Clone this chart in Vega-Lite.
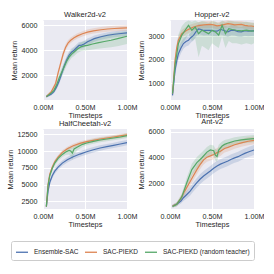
{
"$schema":"https://vega.github.io/schema/vega-lite/v6.json",
"background":"white",
"padding":{"left":6,"top":10,"right":0,"bottom":0},
"bounds":"flush",
"columns":2,
"spacing":{"row":29,"column":43},
"data":{"values":[
{"e":"Walker2d-v2","s":"Ensemble-SAC","t":0.04,"m":300,"lo":200,"hi":400},
{"e":"Walker2d-v2","s":"Ensemble-SAC","t":0.1,"m":500,"lo":380,"hi":620},
{"e":"Walker2d-v2","s":"Ensemble-SAC","t":0.13,"m":700,"lo":550,"hi":850},
{"e":"Walker2d-v2","s":"Ensemble-SAC","t":0.16,"m":1050,"lo":850,"hi":1250},
{"e":"Walker2d-v2","s":"Ensemble-SAC","t":0.19,"m":1500,"lo":1250,"hi":1750},
{"e":"Walker2d-v2","s":"Ensemble-SAC","t":0.22,"m":2100,"lo":1800,"hi":2400},
{"e":"Walker2d-v2","s":"Ensemble-SAC","t":0.25,"m":2700,"lo":2400,"hi":3000},
{"e":"Walker2d-v2","s":"Ensemble-SAC","t":0.28,"m":3200,"lo":2900,"hi":3500},
{"e":"Walker2d-v2","s":"Ensemble-SAC","t":0.31,"m":3600,"lo":3300,"hi":3900},
{"e":"Walker2d-v2","s":"Ensemble-SAC","t":0.34,"m":3850,"lo":3550,"hi":4150},
{"e":"Walker2d-v2","s":"Ensemble-SAC","t":0.37,"m":4000,"lo":3720,"hi":4280},
{"e":"Walker2d-v2","s":"Ensemble-SAC","t":0.4,"m":4200,"lo":3920,"hi":4480},
{"e":"Walker2d-v2","s":"Ensemble-SAC","t":0.43,"m":4400,"lo":4130,"hi":4670},
{"e":"Walker2d-v2","s":"Ensemble-SAC","t":0.46,"m":4420,"lo":4150,"hi":4690},
{"e":"Walker2d-v2","s":"Ensemble-SAC","t":0.49,"m":4500,"lo":4230,"hi":4770},
{"e":"Walker2d-v2","s":"Ensemble-SAC","t":0.53,"m":4680,"lo":4420,"hi":4940},
{"e":"Walker2d-v2","s":"Ensemble-SAC","t":0.57,"m":4800,"lo":4550,"hi":5050},
{"e":"Walker2d-v2","s":"Ensemble-SAC","t":0.61,"m":4930,"lo":4680,"hi":5180},
{"e":"Walker2d-v2","s":"Ensemble-SAC","t":0.69,"m":5080,"lo":4840,"hi":5320},
{"e":"Walker2d-v2","s":"Ensemble-SAC","t":0.77,"m":5200,"lo":4960,"hi":5440},
{"e":"Walker2d-v2","s":"Ensemble-SAC","t":0.85,"m":5280,"lo":5040,"hi":5520},
{"e":"Walker2d-v2","s":"Ensemble-SAC","t":0.93,"m":5340,"lo":5100,"hi":5580},
{"e":"Walker2d-v2","s":"Ensemble-SAC","t":1.0,"m":5390,"lo":5150,"hi":5630},
{"e":"Walker2d-v2","s":"SAC-PIEKD","t":0.04,"m":300,"lo":200,"hi":400},
{"e":"Walker2d-v2","s":"SAC-PIEKD","t":0.1,"m":700,"lo":580,"hi":820},
{"e":"Walker2d-v2","s":"SAC-PIEKD","t":0.15,"m":1350,"lo":1150,"hi":1550},
{"e":"Walker2d-v2","s":"SAC-PIEKD","t":0.18,"m":2200,"lo":1950,"hi":2450},
{"e":"Walker2d-v2","s":"SAC-PIEKD","t":0.21,"m":2950,"lo":2700,"hi":3200},
{"e":"Walker2d-v2","s":"SAC-PIEKD","t":0.24,"m":3700,"lo":3450,"hi":3950},
{"e":"Walker2d-v2","s":"SAC-PIEKD","t":0.27,"m":4250,"lo":4000,"hi":4500},
{"e":"Walker2d-v2","s":"SAC-PIEKD","t":0.3,"m":4600,"lo":4370,"hi":4830},
{"e":"Walker2d-v2","s":"SAC-PIEKD","t":0.33,"m":4800,"lo":4580,"hi":5020},
{"e":"Walker2d-v2","s":"SAC-PIEKD","t":0.37,"m":5000,"lo":4790,"hi":5210},
{"e":"Walker2d-v2","s":"SAC-PIEKD","t":0.41,"m":5150,"lo":4940,"hi":5360},
{"e":"Walker2d-v2","s":"SAC-PIEKD","t":0.47,"m":5320,"lo":5110,"hi":5530},
{"e":"Walker2d-v2","s":"SAC-PIEKD","t":0.53,"m":5450,"lo":5240,"hi":5660},
{"e":"Walker2d-v2","s":"SAC-PIEKD","t":0.6,"m":5550,"lo":5340,"hi":5760},
{"e":"Walker2d-v2","s":"SAC-PIEKD","t":0.69,"m":5640,"lo":5420,"hi":5860},
{"e":"Walker2d-v2","s":"SAC-PIEKD","t":0.77,"m":5700,"lo":5480,"hi":5920},
{"e":"Walker2d-v2","s":"SAC-PIEKD","t":0.85,"m":5740,"lo":5520,"hi":5960},
{"e":"Walker2d-v2","s":"SAC-PIEKD","t":0.93,"m":5770,"lo":5550,"hi":5990},
{"e":"Walker2d-v2","s":"SAC-PIEKD","t":1.0,"m":5790,"lo":5570,"hi":6010},
{"e":"Walker2d-v2","s":"SAC-PIEKD (random teacher)","t":0.04,"m":300,"lo":200,"hi":400},
{"e":"Walker2d-v2","s":"SAC-PIEKD (random teacher)","t":0.1,"m":600,"lo":450,"hi":750},
{"e":"Walker2d-v2","s":"SAC-PIEKD (random teacher)","t":0.13,"m":800,"lo":620,"hi":980},
{"e":"Walker2d-v2","s":"SAC-PIEKD (random teacher)","t":0.16,"m":1200,"lo":950,"hi":1450},
{"e":"Walker2d-v2","s":"SAC-PIEKD (random teacher)","t":0.19,"m":1750,"lo":1450,"hi":2050},
{"e":"Walker2d-v2","s":"SAC-PIEKD (random teacher)","t":0.22,"m":2200,"lo":1850,"hi":2550},
{"e":"Walker2d-v2","s":"SAC-PIEKD (random teacher)","t":0.25,"m":2650,"lo":2300,"hi":3000},
{"e":"Walker2d-v2","s":"SAC-PIEKD (random teacher)","t":0.28,"m":3100,"lo":2750,"hi":3450},
{"e":"Walker2d-v2","s":"SAC-PIEKD (random teacher)","t":0.31,"m":3450,"lo":3100,"hi":3800},
{"e":"Walker2d-v2","s":"SAC-PIEKD (random teacher)","t":0.34,"m":3700,"lo":3380,"hi":4020},
{"e":"Walker2d-v2","s":"SAC-PIEKD (random teacher)","t":0.37,"m":3870,"lo":3550,"hi":4190},
{"e":"Walker2d-v2","s":"SAC-PIEKD (random teacher)","t":0.41,"m":4100,"lo":3780,"hi":4420},
{"e":"Walker2d-v2","s":"SAC-PIEKD (random teacher)","t":0.45,"m":4270,"lo":3920,"hi":4620},
{"e":"Walker2d-v2","s":"SAC-PIEKD (random teacher)","t":0.49,"m":4350,"lo":3980,"hi":4720},
{"e":"Walker2d-v2","s":"SAC-PIEKD (random teacher)","t":0.53,"m":4400,"lo":4000,"hi":4800},
{"e":"Walker2d-v2","s":"SAC-PIEKD (random teacher)","t":0.59,"m":4500,"lo":4060,"hi":4940},
{"e":"Walker2d-v2","s":"SAC-PIEKD (random teacher)","t":0.65,"m":4590,"lo":4120,"hi":5060},
{"e":"Walker2d-v2","s":"SAC-PIEKD (random teacher)","t":0.73,"m":4700,"lo":4180,"hi":5220},
{"e":"Walker2d-v2","s":"SAC-PIEKD (random teacher)","t":0.81,"m":4800,"lo":4250,"hi":5350},
{"e":"Walker2d-v2","s":"SAC-PIEKD (random teacher)","t":0.9,"m":4950,"lo":4350,"hi":5450},
{"e":"Walker2d-v2","s":"SAC-PIEKD (random teacher)","t":1.0,"m":5120,"lo":4500,"hi":5500},
{"e":"Hopper-v2","s":"Ensemble-SAC","t":0.03,"m":470,"lo":350,"hi":590},
{"e":"Hopper-v2","s":"Ensemble-SAC","t":0.06,"m":1550,"lo":1300,"hi":1800},
{"e":"Hopper-v2","s":"Ensemble-SAC","t":0.08,"m":1950,"lo":1700,"hi":2200},
{"e":"Hopper-v2","s":"Ensemble-SAC","t":0.1,"m":2250,"lo":2000,"hi":2500},
{"e":"Hopper-v2","s":"Ensemble-SAC","t":0.13,"m":2500,"lo":2270,"hi":2730},
{"e":"Hopper-v2","s":"Ensemble-SAC","t":0.16,"m":2690,"lo":2470,"hi":2910},
{"e":"Hopper-v2","s":"Ensemble-SAC","t":0.19,"m":2780,"lo":2560,"hi":3000},
{"e":"Hopper-v2","s":"Ensemble-SAC","t":0.22,"m":2830,"lo":2610,"hi":3050},
{"e":"Hopper-v2","s":"Ensemble-SAC","t":0.25,"m":2950,"lo":2730,"hi":3170},
{"e":"Hopper-v2","s":"Ensemble-SAC","t":0.28,"m":3040,"lo":2820,"hi":3260},
{"e":"Hopper-v2","s":"Ensemble-SAC","t":0.31,"m":3200,"lo":2980,"hi":3420},
{"e":"Hopper-v2","s":"Ensemble-SAC","t":0.34,"m":3320,"lo":3100,"hi":3540},
{"e":"Hopper-v2","s":"Ensemble-SAC","t":0.37,"m":3290,"lo":3070,"hi":3510},
{"e":"Hopper-v2","s":"Ensemble-SAC","t":0.4,"m":3250,"lo":3030,"hi":3470},
{"e":"Hopper-v2","s":"Ensemble-SAC","t":0.44,"m":3260,"lo":3040,"hi":3480},
{"e":"Hopper-v2","s":"Ensemble-SAC","t":0.48,"m":3250,"lo":3030,"hi":3470},
{"e":"Hopper-v2","s":"Ensemble-SAC","t":0.52,"m":3230,"lo":3010,"hi":3450},
{"e":"Hopper-v2","s":"Ensemble-SAC","t":0.56,"m":3220,"lo":3000,"hi":3440},
{"e":"Hopper-v2","s":"Ensemble-SAC","t":0.6,"m":3300,"lo":3080,"hi":3520},
{"e":"Hopper-v2","s":"Ensemble-SAC","t":0.64,"m":3250,"lo":3030,"hi":3470},
{"e":"Hopper-v2","s":"Ensemble-SAC","t":0.69,"m":3190,"lo":2970,"hi":3410},
{"e":"Hopper-v2","s":"Ensemble-SAC","t":0.73,"m":3260,"lo":3040,"hi":3480},
{"e":"Hopper-v2","s":"Ensemble-SAC","t":0.77,"m":3250,"lo":3030,"hi":3470},
{"e":"Hopper-v2","s":"Ensemble-SAC","t":0.81,"m":3200,"lo":2980,"hi":3420},
{"e":"Hopper-v2","s":"Ensemble-SAC","t":0.85,"m":3190,"lo":2970,"hi":3410},
{"e":"Hopper-v2","s":"Ensemble-SAC","t":0.89,"m":3240,"lo":3020,"hi":3460},
{"e":"Hopper-v2","s":"Ensemble-SAC","t":0.93,"m":3220,"lo":3000,"hi":3440},
{"e":"Hopper-v2","s":"Ensemble-SAC","t":0.97,"m":3230,"lo":3010,"hi":3450},
{"e":"Hopper-v2","s":"Ensemble-SAC","t":1.0,"m":3230,"lo":3010,"hi":3450},
{"e":"Hopper-v2","s":"SAC-PIEKD","t":0.03,"m":550,"lo":430,"hi":670},
{"e":"Hopper-v2","s":"SAC-PIEKD","t":0.06,"m":1970,"lo":1750,"hi":2190},
{"e":"Hopper-v2","s":"SAC-PIEKD","t":0.08,"m":2500,"lo":2300,"hi":2700},
{"e":"Hopper-v2","s":"SAC-PIEKD","t":0.1,"m":2830,"lo":2650,"hi":3010},
{"e":"Hopper-v2","s":"SAC-PIEKD","t":0.14,"m":3110,"lo":2950,"hi":3270},
{"e":"Hopper-v2","s":"SAC-PIEKD","t":0.2,"m":3260,"lo":3100,"hi":3420},
{"e":"Hopper-v2","s":"SAC-PIEKD","t":0.24,"m":3330,"lo":3170,"hi":3490},
{"e":"Hopper-v2","s":"SAC-PIEKD","t":0.28,"m":3400,"lo":3250,"hi":3550},
{"e":"Hopper-v2","s":"SAC-PIEKD","t":0.32,"m":3440,"lo":3290,"hi":3590},
{"e":"Hopper-v2","s":"SAC-PIEKD","t":0.36,"m":3470,"lo":3320,"hi":3620},
{"e":"Hopper-v2","s":"SAC-PIEKD","t":0.4,"m":3490,"lo":3340,"hi":3640},
{"e":"Hopper-v2","s":"SAC-PIEKD","t":0.44,"m":3500,"lo":3350,"hi":3650},
{"e":"Hopper-v2","s":"SAC-PIEKD","t":0.48,"m":3510,"lo":3360,"hi":3660},
{"e":"Hopper-v2","s":"SAC-PIEKD","t":0.52,"m":3490,"lo":3340,"hi":3640},
{"e":"Hopper-v2","s":"SAC-PIEKD","t":0.56,"m":3450,"lo":3300,"hi":3600},
{"e":"Hopper-v2","s":"SAC-PIEKD","t":0.6,"m":3470,"lo":3320,"hi":3620},
{"e":"Hopper-v2","s":"SAC-PIEKD","t":0.64,"m":3500,"lo":3350,"hi":3650},
{"e":"Hopper-v2","s":"SAC-PIEKD","t":0.69,"m":3540,"lo":3390,"hi":3690},
{"e":"Hopper-v2","s":"SAC-PIEKD","t":0.73,"m":3520,"lo":3370,"hi":3670},
{"e":"Hopper-v2","s":"SAC-PIEKD","t":0.77,"m":3490,"lo":3340,"hi":3640},
{"e":"Hopper-v2","s":"SAC-PIEKD","t":0.81,"m":3500,"lo":3350,"hi":3650},
{"e":"Hopper-v2","s":"SAC-PIEKD","t":0.85,"m":3510,"lo":3360,"hi":3660},
{"e":"Hopper-v2","s":"SAC-PIEKD","t":0.89,"m":3470,"lo":3320,"hi":3620},
{"e":"Hopper-v2","s":"SAC-PIEKD","t":0.93,"m":3450,"lo":3300,"hi":3600},
{"e":"Hopper-v2","s":"SAC-PIEKD","t":0.97,"m":3440,"lo":3290,"hi":3590},
{"e":"Hopper-v2","s":"SAC-PIEKD","t":1.0,"m":3420,"lo":3270,"hi":3570},
{"e":"Hopper-v2","s":"SAC-PIEKD (random teacher)","t":0.03,"m":550,"lo":430,"hi":670},
{"e":"Hopper-v2","s":"SAC-PIEKD (random teacher)","t":0.06,"m":1760,"lo":1450,"hi":2070},
{"e":"Hopper-v2","s":"SAC-PIEKD (random teacher)","t":0.1,"m":2690,"lo":2300,"hi":3080},
{"e":"Hopper-v2","s":"SAC-PIEKD (random teacher)","t":0.14,"m":3040,"lo":2650,"hi":3430},
{"e":"Hopper-v2","s":"SAC-PIEKD (random teacher)","t":0.18,"m":3260,"lo":2850,"hi":3600},
{"e":"Hopper-v2","s":"SAC-PIEKD (random teacher)","t":0.22,"m":3470,"lo":3100,"hi":3680},
{"e":"Hopper-v2","s":"SAC-PIEKD (random teacher)","t":0.26,"m":3260,"lo":2800,"hi":3620},
{"e":"Hopper-v2","s":"SAC-PIEKD (random teacher)","t":0.3,"m":3400,"lo":2900,"hi":3680},
{"e":"Hopper-v2","s":"SAC-PIEKD (random teacher)","t":0.34,"m":3110,"lo":2100,"hi":3600},
{"e":"Hopper-v2","s":"SAC-PIEKD (random teacher)","t":0.38,"m":3260,"lo":2600,"hi":3650},
{"e":"Hopper-v2","s":"SAC-PIEKD (random teacher)","t":0.42,"m":3190,"lo":2500,"hi":3620},
{"e":"Hopper-v2","s":"SAC-PIEKD (random teacher)","t":0.46,"m":3110,"lo":2400,"hi":3580},
{"e":"Hopper-v2","s":"SAC-PIEKD (random teacher)","t":0.5,"m":3260,"lo":2700,"hi":3650},
{"e":"Hopper-v2","s":"SAC-PIEKD (random teacher)","t":0.54,"m":3190,"lo":2600,"hi":3620},
{"e":"Hopper-v2","s":"SAC-PIEKD (random teacher)","t":0.58,"m":3050,"lo":2500,"hi":3550},
{"e":"Hopper-v2","s":"SAC-PIEKD (random teacher)","t":0.62,"m":3470,"lo":3000,"hi":3680},
{"e":"Hopper-v2","s":"SAC-PIEKD (random teacher)","t":0.66,"m":3110,"lo":2500,"hi":3600},
{"e":"Hopper-v2","s":"SAC-PIEKD (random teacher)","t":0.7,"m":3330,"lo":2800,"hi":3650},
{"e":"Hopper-v2","s":"SAC-PIEKD (random teacher)","t":0.74,"m":3290,"lo":2700,"hi":3640},
{"e":"Hopper-v2","s":"SAC-PIEKD (random teacher)","t":0.79,"m":3260,"lo":2700,"hi":3620},
{"e":"Hopper-v2","s":"SAC-PIEKD (random teacher)","t":0.85,"m":3230,"lo":2650,"hi":3600},
{"e":"Hopper-v2","s":"SAC-PIEKD (random teacher)","t":0.91,"m":3260,"lo":2700,"hi":3620},
{"e":"Hopper-v2","s":"SAC-PIEKD (random teacher)","t":0.97,"m":3220,"lo":2650,"hi":3580},
{"e":"Hopper-v2","s":"SAC-PIEKD (random teacher)","t":1.0,"m":3230,"lo":2700,"hi":3580},
{"e":"HalfCheetah-v2","s":"Ensemble-SAC","t":0.04,"m":1700,"lo":1500,"hi":1900},
{"e":"HalfCheetah-v2","s":"Ensemble-SAC","t":0.06,"m":4000,"lo":3600,"hi":4400},
{"e":"HalfCheetah-v2","s":"Ensemble-SAC","t":0.08,"m":5300,"lo":4900,"hi":5700},
{"e":"HalfCheetah-v2","s":"Ensemble-SAC","t":0.11,"m":6300,"lo":5900,"hi":6700},
{"e":"HalfCheetah-v2","s":"Ensemble-SAC","t":0.14,"m":7000,"lo":6600,"hi":7400},
{"e":"HalfCheetah-v2","s":"Ensemble-SAC","t":0.18,"m":7600,"lo":7200,"hi":8000},
{"e":"HalfCheetah-v2","s":"Ensemble-SAC","t":0.23,"m":8200,"lo":7800,"hi":8600},
{"e":"HalfCheetah-v2","s":"Ensemble-SAC","t":0.29,"m":8700,"lo":8300,"hi":9100},
{"e":"HalfCheetah-v2","s":"Ensemble-SAC","t":0.36,"m":9150,"lo":8750,"hi":9550},
{"e":"HalfCheetah-v2","s":"Ensemble-SAC","t":0.44,"m":9550,"lo":9150,"hi":9950},
{"e":"HalfCheetah-v2","s":"Ensemble-SAC","t":0.52,"m":9900,"lo":9500,"hi":10300},
{"e":"HalfCheetah-v2","s":"Ensemble-SAC","t":0.6,"m":10200,"lo":9800,"hi":10600},
{"e":"HalfCheetah-v2","s":"Ensemble-SAC","t":0.68,"m":10450,"lo":10050,"hi":10850},
{"e":"HalfCheetah-v2","s":"Ensemble-SAC","t":0.76,"m":10650,"lo":10250,"hi":11050},
{"e":"HalfCheetah-v2","s":"Ensemble-SAC","t":0.84,"m":10850,"lo":10450,"hi":11250},
{"e":"HalfCheetah-v2","s":"Ensemble-SAC","t":0.92,"m":11050,"lo":10650,"hi":11450},
{"e":"HalfCheetah-v2","s":"Ensemble-SAC","t":1.0,"m":11250,"lo":10850,"hi":11650},
{"e":"HalfCheetah-v2","s":"SAC-PIEKD","t":0.04,"m":1700,"lo":1500,"hi":1900},
{"e":"HalfCheetah-v2","s":"SAC-PIEKD","t":0.06,"m":5000,"lo":4700,"hi":5300},
{"e":"HalfCheetah-v2","s":"SAC-PIEKD","t":0.08,"m":6500,"lo":6200,"hi":6800},
{"e":"HalfCheetah-v2","s":"SAC-PIEKD","t":0.11,"m":7600,"lo":7300,"hi":7900},
{"e":"HalfCheetah-v2","s":"SAC-PIEKD","t":0.14,"m":8400,"lo":8100,"hi":8700},
{"e":"HalfCheetah-v2","s":"SAC-PIEKD","t":0.18,"m":9100,"lo":8800,"hi":9400},
{"e":"HalfCheetah-v2","s":"SAC-PIEKD","t":0.23,"m":9800,"lo":9500,"hi":10100},
{"e":"HalfCheetah-v2","s":"SAC-PIEKD","t":0.29,"m":10350,"lo":10050,"hi":10650},
{"e":"HalfCheetah-v2","s":"SAC-PIEKD","t":0.36,"m":10800,"lo":10500,"hi":11100},
{"e":"HalfCheetah-v2","s":"SAC-PIEKD","t":0.44,"m":11150,"lo":10850,"hi":11450},
{"e":"HalfCheetah-v2","s":"SAC-PIEKD","t":0.52,"m":11400,"lo":11100,"hi":11700},
{"e":"HalfCheetah-v2","s":"SAC-PIEKD","t":0.6,"m":11600,"lo":11300,"hi":11900},
{"e":"HalfCheetah-v2","s":"SAC-PIEKD","t":0.68,"m":11800,"lo":11500,"hi":12100},
{"e":"HalfCheetah-v2","s":"SAC-PIEKD","t":0.76,"m":11950,"lo":11650,"hi":12250},
{"e":"HalfCheetah-v2","s":"SAC-PIEKD","t":0.84,"m":12100,"lo":11800,"hi":12400},
{"e":"HalfCheetah-v2","s":"SAC-PIEKD","t":0.92,"m":12250,"lo":11950,"hi":12550},
{"e":"HalfCheetah-v2","s":"SAC-PIEKD","t":1.0,"m":12400,"lo":12100,"hi":12700},
{"e":"HalfCheetah-v2","s":"SAC-PIEKD (random teacher)","t":0.04,"m":1700,"lo":1500,"hi":1900},
{"e":"HalfCheetah-v2","s":"SAC-PIEKD (random teacher)","t":0.06,"m":4800,"lo":4400,"hi":5200},
{"e":"HalfCheetah-v2","s":"SAC-PIEKD (random teacher)","t":0.08,"m":6300,"lo":5900,"hi":6700},
{"e":"HalfCheetah-v2","s":"SAC-PIEKD (random teacher)","t":0.11,"m":7400,"lo":7000,"hi":7800},
{"e":"HalfCheetah-v2","s":"SAC-PIEKD (random teacher)","t":0.14,"m":8200,"lo":7800,"hi":8600},
{"e":"HalfCheetah-v2","s":"SAC-PIEKD (random teacher)","t":0.18,"m":8900,"lo":8500,"hi":9300},
{"e":"HalfCheetah-v2","s":"SAC-PIEKD (random teacher)","t":0.23,"m":9500,"lo":9100,"hi":9900},
{"e":"HalfCheetah-v2","s":"SAC-PIEKD (random teacher)","t":0.27,"m":9850,"lo":9400,"hi":10300},
{"e":"HalfCheetah-v2","s":"SAC-PIEKD (random teacher)","t":0.31,"m":10100,"lo":9500,"hi":10600},
{"e":"HalfCheetah-v2","s":"SAC-PIEKD (random teacher)","t":0.33,"m":10000,"lo":9200,"hi":10600},
{"e":"HalfCheetah-v2","s":"SAC-PIEKD (random teacher)","t":0.35,"m":9700,"lo":8700,"hi":10500},
{"e":"HalfCheetah-v2","s":"SAC-PIEKD (random teacher)","t":0.37,"m":10300,"lo":9500,"hi":10800},
{"e":"HalfCheetah-v2","s":"SAC-PIEKD (random teacher)","t":0.41,"m":10600,"lo":10100,"hi":11100},
{"e":"HalfCheetah-v2","s":"SAC-PIEKD (random teacher)","t":0.47,"m":11000,"lo":10600,"hi":11400},
{"e":"HalfCheetah-v2","s":"SAC-PIEKD (random teacher)","t":0.52,"m":11200,"lo":10850,"hi":11550},
{"e":"HalfCheetah-v2","s":"SAC-PIEKD (random teacher)","t":0.6,"m":11450,"lo":11100,"hi":11800},
{"e":"HalfCheetah-v2","s":"SAC-PIEKD (random teacher)","t":0.68,"m":11650,"lo":11300,"hi":12000},
{"e":"HalfCheetah-v2","s":"SAC-PIEKD (random teacher)","t":0.76,"m":11800,"lo":11450,"hi":12150},
{"e":"HalfCheetah-v2","s":"SAC-PIEKD (random teacher)","t":0.84,"m":11950,"lo":11600,"hi":12300},
{"e":"HalfCheetah-v2","s":"SAC-PIEKD (random teacher)","t":0.92,"m":12100,"lo":11750,"hi":12450},
{"e":"HalfCheetah-v2","s":"SAC-PIEKD (random teacher)","t":1.0,"m":12300,"lo":11950,"hi":12650},
{"e":"Ant-v2","s":"Ensemble-SAC","t":0.03,"m":320,"lo":200,"hi":440},
{"e":"Ant-v2","s":"Ensemble-SAC","t":0.08,"m":450,"lo":300,"hi":600},
{"e":"Ant-v2","s":"Ensemble-SAC","t":0.13,"m":700,"lo":500,"hi":900},
{"e":"Ant-v2","s":"Ensemble-SAC","t":0.16,"m":950,"lo":700,"hi":1200},
{"e":"Ant-v2","s":"Ensemble-SAC","t":0.2,"m":1200,"lo":900,"hi":1500},
{"e":"Ant-v2","s":"Ensemble-SAC","t":0.24,"m":1460,"lo":1130,"hi":1790},
{"e":"Ant-v2","s":"Ensemble-SAC","t":0.28,"m":1800,"lo":1450,"hi":2150},
{"e":"Ant-v2","s":"Ensemble-SAC","t":0.32,"m":2100,"lo":1740,"hi":2460},
{"e":"Ant-v2","s":"Ensemble-SAC","t":0.36,"m":2380,"lo":2000,"hi":2760},
{"e":"Ant-v2","s":"Ensemble-SAC","t":0.4,"m":2610,"lo":2230,"hi":2990},
{"e":"Ant-v2","s":"Ensemble-SAC","t":0.44,"m":2800,"lo":2420,"hi":3180},
{"e":"Ant-v2","s":"Ensemble-SAC","t":0.48,"m":2990,"lo":2610,"hi":3370},
{"e":"Ant-v2","s":"Ensemble-SAC","t":0.52,"m":3200,"lo":2820,"hi":3580},
{"e":"Ant-v2","s":"Ensemble-SAC","t":0.56,"m":3380,"lo":3000,"hi":3760},
{"e":"Ant-v2","s":"Ensemble-SAC","t":0.6,"m":3520,"lo":3140,"hi":3900},
{"e":"Ant-v2","s":"Ensemble-SAC","t":0.64,"m":3630,"lo":3250,"hi":4010},
{"e":"Ant-v2","s":"Ensemble-SAC","t":0.69,"m":3760,"lo":3380,"hi":4140},
{"e":"Ant-v2","s":"Ensemble-SAC","t":0.73,"m":3890,"lo":3510,"hi":4270},
{"e":"Ant-v2","s":"Ensemble-SAC","t":0.77,"m":4000,"lo":3620,"hi":4380},
{"e":"Ant-v2","s":"Ensemble-SAC","t":0.81,"m":4090,"lo":3710,"hi":4470},
{"e":"Ant-v2","s":"Ensemble-SAC","t":0.85,"m":4220,"lo":3840,"hi":4600},
{"e":"Ant-v2","s":"Ensemble-SAC","t":0.89,"m":4340,"lo":3960,"hi":4720},
{"e":"Ant-v2","s":"Ensemble-SAC","t":0.94,"m":4470,"lo":4090,"hi":4850},
{"e":"Ant-v2","s":"Ensemble-SAC","t":1.0,"m":4600,"lo":4220,"hi":4980},
{"e":"Ant-v2","s":"SAC-PIEKD","t":0.03,"m":320,"lo":200,"hi":440},
{"e":"Ant-v2","s":"SAC-PIEKD","t":0.08,"m":450,"lo":300,"hi":600},
{"e":"Ant-v2","s":"SAC-PIEKD","t":0.13,"m":900,"lo":700,"hi":1100},
{"e":"Ant-v2","s":"SAC-PIEKD","t":0.17,"m":1400,"lo":1100,"hi":1700},
{"e":"Ant-v2","s":"SAC-PIEKD","t":0.21,"m":1850,"lo":1500,"hi":2200},
{"e":"Ant-v2","s":"SAC-PIEKD","t":0.25,"m":2300,"lo":1950,"hi":2650},
{"e":"Ant-v2","s":"SAC-PIEKD","t":0.28,"m":2650,"lo":2300,"hi":3000},
{"e":"Ant-v2","s":"SAC-PIEKD","t":0.32,"m":3100,"lo":2750,"hi":3450},
{"e":"Ant-v2","s":"SAC-PIEKD","t":0.36,"m":3500,"lo":3150,"hi":3850},
{"e":"Ant-v2","s":"SAC-PIEKD","t":0.4,"m":3850,"lo":3500,"hi":4200},
{"e":"Ant-v2","s":"SAC-PIEKD","t":0.44,"m":4050,"lo":3700,"hi":4400},
{"e":"Ant-v2","s":"SAC-PIEKD","t":0.48,"m":4150,"lo":3800,"hi":4500},
{"e":"Ant-v2","s":"SAC-PIEKD","t":0.52,"m":4250,"lo":3900,"hi":4600},
{"e":"Ant-v2","s":"SAC-PIEKD","t":0.56,"m":4400,"lo":4050,"hi":4750},
{"e":"Ant-v2","s":"SAC-PIEKD","t":0.6,"m":4500,"lo":4150,"hi":4850},
{"e":"Ant-v2","s":"SAC-PIEKD","t":0.65,"m":4720,"lo":4400,"hi":5040},
{"e":"Ant-v2","s":"SAC-PIEKD","t":0.69,"m":4800,"lo":4480,"hi":5120},
{"e":"Ant-v2","s":"SAC-PIEKD","t":0.77,"m":5000,"lo":4700,"hi":5300},
{"e":"Ant-v2","s":"SAC-PIEKD","t":0.85,"m":5150,"lo":4850,"hi":5450},
{"e":"Ant-v2","s":"SAC-PIEKD","t":0.93,"m":5270,"lo":4970,"hi":5570},
{"e":"Ant-v2","s":"SAC-PIEKD","t":1.0,"m":5340,"lo":5040,"hi":5640},
{"e":"Ant-v2","s":"SAC-PIEKD (random teacher)","t":0.03,"m":280,"lo":180,"hi":380},
{"e":"Ant-v2","s":"SAC-PIEKD (random teacher)","t":0.08,"m":450,"lo":300,"hi":600},
{"e":"Ant-v2","s":"SAC-PIEKD (random teacher)","t":0.14,"m":1000,"lo":750,"hi":1250},
{"e":"Ant-v2","s":"SAC-PIEKD (random teacher)","t":0.2,"m":2100,"lo":1700,"hi":2500},
{"e":"Ant-v2","s":"SAC-PIEKD (random teacher)","t":0.26,"m":3100,"lo":2650,"hi":3550},
{"e":"Ant-v2","s":"SAC-PIEKD (random teacher)","t":0.32,"m":3630,"lo":3200,"hi":4060},
{"e":"Ant-v2","s":"SAC-PIEKD (random teacher)","t":0.38,"m":4010,"lo":3600,"hi":4420},
{"e":"Ant-v2","s":"SAC-PIEKD (random teacher)","t":0.44,"m":4440,"lo":4050,"hi":4830},
{"e":"Ant-v2","s":"SAC-PIEKD (random teacher)","t":0.48,"m":4600,"lo":4200,"hi":5000},
{"e":"Ant-v2","s":"SAC-PIEKD (random teacher)","t":0.52,"m":4550,"lo":4150,"hi":4950},
{"e":"Ant-v2","s":"SAC-PIEKD (random teacher)","t":0.54,"m":4200,"lo":3800,"hi":4700},
{"e":"Ant-v2","s":"SAC-PIEKD (random teacher)","t":0.56,"m":4100,"lo":3700,"hi":4600},
{"e":"Ant-v2","s":"SAC-PIEKD (random teacher)","t":0.58,"m":4600,"lo":4200,"hi":5000},
{"e":"Ant-v2","s":"SAC-PIEKD (random teacher)","t":0.62,"m":4900,"lo":4550,"hi":5250},
{"e":"Ant-v2","s":"SAC-PIEKD (random teacher)","t":0.65,"m":5030,"lo":4700,"hi":5360},
{"e":"Ant-v2","s":"SAC-PIEKD (random teacher)","t":0.7,"m":5150,"lo":4850,"hi":5450},
{"e":"Ant-v2","s":"SAC-PIEKD (random teacher)","t":0.77,"m":5290,"lo":5000,"hi":5580},
{"e":"Ant-v2","s":"SAC-PIEKD (random teacher)","t":0.85,"m":5380,"lo":5100,"hi":5660},
{"e":"Ant-v2","s":"SAC-PIEKD (random teacher)","t":0.93,"m":5430,"lo":5160,"hi":5700},
{"e":"Ant-v2","s":"SAC-PIEKD (random teacher)","t":1.0,"m":5470,"lo":5200,"hi":5740}
]},
"concat":[
{"width":84,"height":80,"title":"Walker2d-v2","transform":[{"filter":"datum.e==='Walker2d-v2'"}],
 "encoding":{"x":{"field":"t","type":"quantitative","scale":{"domain":[0,1],"nice":false},"axis":{"values":[0,0.5,1],"labelExpr":"format(datum.value,'.2f')+'M'","title":"Timesteps"}},
  "color":{"field":"s","type":"nominal","scale":{"domain":["Ensemble-SAC","SAC-PIEKD","SAC-PIEKD (random teacher)"],"range":["#4c72b0","#dd8452","#55a868"]},"legend":{"orient":"none","legendX":-32,"legendY":221,"direction":"horizontal","columns":3,"title":null}}},
 "layer":[
  {"mark":{"type":"area","opacity":0.2},"encoding":{"y":{"field":"lo","type":"quantitative","scale":{"domain":[30,6420],"nice":false,"zero":false},"axis":{"values":[2000,4000,6000],"format":"d","title":"Mean return"}},"y2":{"field":"hi"}}},
  {"mark":{"type":"line","strokeWidth":1.2},"encoding":{"y":{"field":"m","type":"quantitative","scale":{"domain":[30,6420],"nice":false,"zero":false},"axis":{"values":[2000,4000,6000],"format":"d","title":"Mean return"}}}}
 ]},
{"width":84,"height":80,"title":"Hopper-v2","transform":[{"filter":"datum.e==='Hopper-v2'"}],
 "encoding":{"x":{"field":"t","type":"quantitative","scale":{"domain":[0,1],"nice":false},"axis":{"values":[0,0.5,1],"labelExpr":"format(datum.value,'.2f')+'M'","title":"Timesteps"}},
  "color":{"field":"s","type":"nominal","scale":{"domain":["Ensemble-SAC","SAC-PIEKD","SAC-PIEKD (random teacher)"],"range":["#4c72b0","#dd8452","#55a868"]},"legend":{"orient":"none","legendX":-32,"legendY":221,"direction":"horizontal","columns":3,"title":null}}},
 "layer":[
  {"mark":{"type":"area","opacity":0.2},"encoding":{"y":{"field":"lo","type":"quantitative","scale":{"domain":[272,3698],"nice":false,"zero":false},"axis":{"values":[1000,2000,3000],"format":"d","title":"Mean return"}},"y2":{"field":"hi"}}},
  {"mark":{"type":"line","strokeWidth":1.2},"encoding":{"y":{"field":"m","type":"quantitative","scale":{"domain":[272,3698],"nice":false,"zero":false},"axis":{"values":[1000,2000,3000],"format":"d","title":"Mean return"}}}}
 ]},
{"width":84,"height":80,"title":"HalfCheetah-v2","transform":[{"filter":"datum.e==='HalfCheetah-v2'"}],
 "encoding":{"x":{"field":"t","type":"quantitative","scale":{"domain":[0,1],"nice":false},"axis":{"values":[0,0.5,1],"labelExpr":"format(datum.value,'.2f')+'M'","title":"Timesteps"}},
  "color":{"field":"s","type":"nominal","scale":{"domain":["Ensemble-SAC","SAC-PIEKD","SAC-PIEKD (random teacher)"],"range":["#4c72b0","#dd8452","#55a868"]},"legend":{"orient":"none","legendX":-32,"legendY":221,"direction":"horizontal","columns":3,"title":null}}},
 "layer":[
  {"mark":{"type":"area","opacity":0.2},"encoding":{"y":{"field":"lo","type":"quantitative","scale":{"domain":[1350,13290],"nice":false,"zero":false},"axis":{"values":[2500,5000,7500,10000,12500],"format":"d","title":"Mean return"}},"y2":{"field":"hi"}}},
  {"mark":{"type":"line","strokeWidth":1.2},"encoding":{"y":{"field":"m","type":"quantitative","scale":{"domain":[1350,13290],"nice":false,"zero":false},"axis":{"values":[2500,5000,7500,10000,12500],"format":"d","title":"Mean return"}}}}
 ]},
{"width":84,"height":80,"title":"Ant-v2","transform":[{"filter":"datum.e==='Ant-v2'"}],
 "encoding":{"x":{"field":"t","type":"quantitative","scale":{"domain":[0,1],"nice":false},"axis":{"values":[0,0.5,1],"labelExpr":"format(datum.value,'.2f')+'M'","title":"Timesteps"}},
  "color":{"field":"s","type":"nominal","scale":{"domain":["Ensemble-SAC","SAC-PIEKD","SAC-PIEKD (random teacher)"],"range":["#4c72b0","#dd8452","#55a868"]},"legend":{"orient":"none","legendX":-32,"legendY":221,"direction":"horizontal","columns":3,"title":null}}},
 "layer":[
  {"mark":{"type":"area","opacity":0.2},"encoding":{"y":{"field":"lo","type":"quantitative","scale":{"domain":[88,6206],"nice":false,"zero":false},"axis":{"values":[2000,4000,6000],"format":"d","title":"Mean return"}},"y2":{"field":"hi"}}},
  {"mark":{"type":"line","strokeWidth":1.2},"encoding":{"y":{"field":"m","type":"quantitative","scale":{"domain":[88,6206],"nice":false,"zero":false},"axis":{"values":[2000,4000,6000],"format":"d","title":"Mean return"}}}}
 ]}
],
"resolve":{"scale":{"y":"independent","x":"independent"}},
"config":{
 "font":"Liberation Sans",
 "view":{"fill":"#eaeaf2","stroke":null},
 "axis":{"domain":false,"ticks":false,"grid":true,"gridColor":"white","gridWidth":1,"labelFontSize":7.2,"labelColor":"#262626","titleFontSize":7.4,"titleFontWeight":"normal","titleColor":"#262626","labelFlush":false},
 "axisX":{"labelPadding":3,"titlePadding":1},
 "axisY":{"labelPadding":6,"titlePadding":3},
 "title":{"fontSize":7.5,"fontWeight":"normal","color":"#262626","offset":2},
 "legend":{"symbolType":"stroke","symbolSize":144,"symbolStrokeWidth":1.3,"symbolOpacity":1,"labelFontSize":6.5,"labelColor":"#262626","columnPadding":3,"labelOffset":5,"padding":4,"strokeColor":"#cccccc","fillColor":"white","cornerRadius":2}
}
}
